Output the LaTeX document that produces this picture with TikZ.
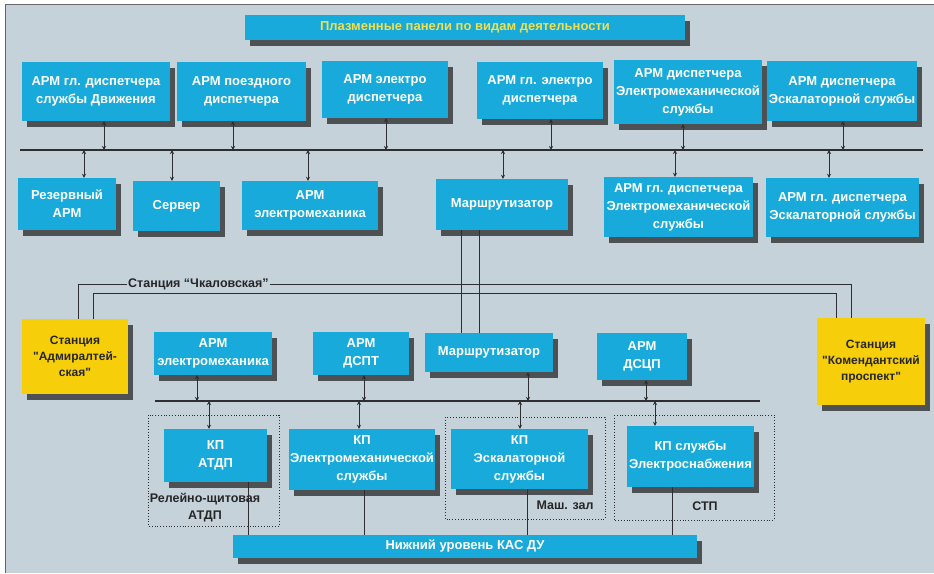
\documentclass[tikz,border=0pt]{standalone}
\usepackage{fontspec}
\setmainfont{Liberation Sans}
\newfontfamily\yfont{Liberation Sans}
\usetikzlibrary{arrows.meta,shadows}
\definecolor{bgc}{RGB}{197,210,218}
\definecolor{boxc}{RGB}{24,170,218}
\definecolor{yelc}{RGB}{246,206,10}
\definecolor{banc}{RGB}{238,224,80}
\definecolor{linec}{RGB}{45,45,50}
\tikzset{
 bx/.style={fill=boxc, text=white, font=\bfseries\fontsize{13}{18}\selectfont, align=center, inner sep=0pt,
   drop shadow={shadow xshift=5pt, shadow yshift=-6pt, fill=black!85, opacity=0.75}},
 ybx/.style={bx, fill=yelc, text=black!85, font=\yfont\bfseries\fontsize{12}{16}\selectfont},
 arr/.style={draw=linec, line width=0.9pt, {Stealth[length=4pt,width=4pt]}-{Stealth[length=4pt,width=4pt]}},
 bus/.style={draw=linec, line width=1.6pt},
 wire/.style={draw=linec, line width=0.8pt},
 dotbox/.style={draw=linec, dotted, line width=0.8pt},
 lbl/.style={text=black!85, font=\bfseries\fontsize{12.5}{17}\selectfont, align=center, inner sep=1pt},
}
\begin{document}
\begin{tikzpicture}[x=1pt,y=-1pt]
\useasboundingbox (0,0) rectangle (934,573);
\fill[white] (0,0) rectangle (934,573);
\fill[bgc] (5,4) rectangle (934,573);
\draw[black!60, line width=0.8pt] (5,573) -- (5,4) -- (934,4);

% banner
\node[bx, minimum width=440, minimum height=25, text=banc] (ban) at (465,27.5) {Плазменные панели по видам деятельности};

% row 1
\node[bx, minimum width=148, minimum height=59] (r1a) at (96,91.5) {АРМ гл. диспетчера\\службы Движения};
\node[bx, minimum width=129, minimum height=59] (r1b) at (241.5,91.5) {АРМ поездного\\диспетчера};
\node[bx, minimum width=126, minimum height=57] (r1c) at (385,89.5) {АРМ электро\\диспетчера};
\node[bx, minimum width=126, minimum height=57] (r1d) at (540,90.5) {АРМ гл. электро\\диспетчера};
\node[bx, minimum width=148, minimum height=64] (r1e) at (688,92) {АРМ диспетчера\\Электромеханической\\службы};
\node[bx, minimum width=150, minimum height=60] (r1f) at (842,91) {АРМ диспетчера\\Эскалаторной службы};

% bus 1
\coordinate (b1L) at (20,150);
\coordinate (b1R) at (923,150);
\draw[bus] (b1L) -- (b1R);

% row 2
\node[bx, minimum width=98, minimum height=52] (r2a) at (67,204) {Резервный\\АРМ};
\node[bx, minimum width=87, minimum height=50] (r2b) at (176.5,206) {Сервер};
\node[bx, minimum width=136, minimum height=49] (r2c) at (310,205.5) {АРМ\\электромеханика};
\node[bx, minimum width=132, minimum height=51] (r2d) at (502,204.5) {Маршрутизатор};
\node[bx, minimum width=149, minimum height=60] (r2e) at (678.5,207) {АРМ гл. диспетчера\\Электромеханической\\службы};
\node[bx, minimum width=153, minimum height=59] (r2f) at (842.5,207.5) {АРМ гл. диспетчера\\Эскалаторной службы};

% arrows row1 -> bus1
\draw[arr] (104,0 |- r1a.south) -- (104,0 |- b1L);
\draw[arr] (233,0 |- r1b.south) -- (233,0 |- b1L);
\draw[arr] (386,0 |- r1c.south) -- (386,0 |- b1L);
\draw[arr] (551,0 |- r1d.south) -- (551,0 |- b1L);
\draw[arr] (683,0 |- r1e.south) -- (683,0 |- b1L);
\draw[arr] (843,0 |- r1f.south) -- (843,0 |- b1L);
% arrows bus1 -> row2
\draw[arr] (84,0 |- b1L) -- (84,0 |- r2a.north);
\draw[arr] (172,0 |- b1L) -- (172,0 |- r2b.north);
\draw[arr] (308,0 |- b1L) -- (308,0 |- r2c.north);
\draw[arr] (503,0 |- b1L) -- (503,0 |- r2d.north);
\draw[arr] (675,0 |- b1L) -- (675,0 |- r2e.north);
\draw[arr] (829,0 |- b1L) -- (829,0 |- r2f.north);

% station boxes
\node[ybx, minimum width=106, minimum height=75] (adm) at (75,356.5) {Станция\\"Адмиралтей-\\ская"};
\node[ybx, minimum width=108, minimum height=87] (kom) at (871,361.5) {Станция\\"Комендантский\\проспект"};

% row 3
\node[bx, minimum width=118, minimum height=43] (r3a) at (213,353.5) {АРМ\\электромеханика};
\node[bx, minimum width=96, minimum height=43] (r3b) at (361,353.5) {АРМ\\ДСПТ};
\node[bx, minimum width=128, minimum height=39] (r3c) at (489,352.5) {Маршрутизатор};
\node[bx, minimum width=90, minimum height=47] (r3d) at (642,356.5) {АРМ\\ДСЦП};

% station wires
\draw[wire] (78,0 |- adm.north) -- (78,284) -- (851,284) -- (851,0 |- kom.north);
\draw[wire] (93,0 |- adm.north) -- (93,293) -- (836,293) -- (836,0 |- kom.north);
\node[lbl, fill=bgc, anchor=base west] (chk) at (127,287) {Станция “Чкаловская”};

% router link
\draw[wire, line width=0.6pt] (461,0 |- r2d.south) -- (461,0 |- r3c.north);
\draw[wire] (479,0 |- r2d.south) -- (479,0 |- r3c.north);

% bus 2
\coordinate (b2L) at (155,401);
\coordinate (b2R) at (760,401);
\draw[bus] (b2L) -- (b2R);

% dotted groups
\draw[dotbox] (148,415) rectangle (279,526);
\draw[dotbox] (445,417) rectangle (605,519);
\draw[dotbox] (614,415) rectangle (774,520);

% row 4
\node[bx, minimum width=103, minimum height=53] (r4a) at (215.5,455.5) {КП\\АТДП};
\node[bx, minimum width=146, minimum height=61] (r4b) at (362,459.5) {КП\\Электромеханической\\службы};
\node[bx, minimum width=137, minimum height=60] (r4c) at (519.5,459) {КП\\Эскалаторной\\службы};
\node[bx, minimum width=127, minimum height=61] (r4d) at (690.5,456.5) {КП службы\\Электроснабжения};

% arrows row3 -> bus2
\draw[arr] (197,0 |- r3a.south) -- (197,0 |- b2L);
\draw[arr] (364,0 |- r3b.south) -- (364,0 |- b2L);
\draw[arr] (528,0 |- r3c.south) -- (528,0 |- b2L);
\draw[arr] (646,0 |- r3d.south) -- (646,0 |- b2L);
% arrows bus2 -> row4
\draw[arr] (209,0 |- b2L) -- (209,0 |- r4a.north);
\draw[arr] (359,0 |- b2L) -- (359,0 |- r4b.north);
\draw[arr] (520,0 |- b2L) -- (520,0 |- r4c.north);
\draw[arr] (655,0 |- b2L) -- (655,0 |- r4d.north);

% bottom bar
\node[bx, minimum width=464, minimum height=23] (low) at (465,546.5) {Нижний уровень КАС ДУ};

% row4 -> bottom bar
\draw[wire] (248,0 |- r4a.south) -- (248,0 |- low.north);
\draw[wire] (364,0 |- r4b.south) -- (364,0 |- low.north);
\draw[wire] (527,0 |- r4c.south) -- (527,0 |- low.north);
\draw[wire] (672,0 |- r4d.south) -- (672,0 |- low.north);

% group labels
\node[lbl] (rel) at (205,508) {Релейно-щитовая\\АТДП};
\node[lbl] (mash) at (565,505) {Маш. зал};
\node[lbl] (stp) at (705,506) {СТП};
\end{tikzpicture}
\end{document}
